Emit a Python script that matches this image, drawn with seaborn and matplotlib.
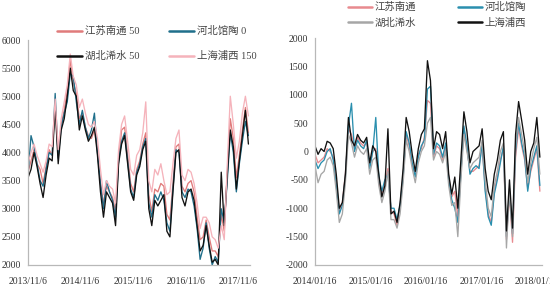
import numpy as np
import pandas as pd
import matplotlib
matplotlib.use("Agg")
import matplotlib.pyplot as plt
from matplotlib.lines import Line2D
import seaborn as sns

# ---------------- data: left chart (price levels) ----------------
left_start = "2013-11-06"
left_step = "21D"
left_names = ["江苏南通 50", "河北馆陶 0", "湖北浠水 50", "上海浦西 150"]
left_jiangsu = [3650, 3850, 4050, 3800, 3700, 3450, 3750, 4050, 3950, 4900, 3950, 4500, 4750, 5100, 5650, 5250,
                5050, 4600, 4700, 4450, 4300, 4250, 4400, 4050, 3450, 3100, 3400, 3300, 3200, 2950, 3850, 4400,
                4450, 3950, 3450, 3300, 3700, 3850, 4150, 4350, 3250, 2950, 3350, 3300, 3450, 3400, 2900, 2800,
                3450, 4100, 4150, 3400, 3300, 3450, 3500, 3300, 2850, 2450, 2500, 2800, 2500, 2250, 2250, 2150,
                2900, 2600, 3650, 4600, 4250, 3550, 3950, 4400, 4800, 4350]
left_hebei = [3600, 4300, 4100, 3800, 3500, 3400, 3700, 4000, 3950, 5050, 3900, 4450, 4700, 4900, 5400, 5350,
              4900, 4500, 4750, 4450, 4250, 4400, 4700, 4000, 3450, 3000, 3500, 3300, 3150, 2850, 3850, 4200,
              4350, 3850, 3350, 3200, 3650, 3800, 4100, 4250, 3100, 2850, 3250, 3150, 3300, 3150, 2750, 2600,
              3350, 4050, 4000, 3300, 3200, 3350, 3300, 3050, 2650, 2100, 2300, 2750, 2300, 2000, 2150, 2050,
              3000, 2750, 3500, 4350, 4000, 3300, 3800, 4200, 4550, 4300]
left_hubei = [3550, 3700, 4000, 3750, 3450, 3200, 3600, 3900, 3850, 4800, 3800, 4400, 4600, 5000, 5500, 5100,
              5000, 4400, 4650, 4400, 4200, 4300, 4450, 3950, 3300, 2850, 3300, 3200, 3100, 2700, 3800, 4150,
              4300, 3800, 3300, 3150, 3600, 3750, 4050, 4200, 3000, 2700, 3150, 3050, 3150, 3250, 2600, 2500,
              3300, 4000, 4050, 3200, 3050, 3300, 3350, 3150, 2700, 2250, 2350, 2700, 2350, 2050, 2100, 2000,
              3650, 2700, 3600, 4400, 4100, 3350, 3850, 4300, 4750, 4150]
left_shanghai = [3800, 4000, 4150, 3950, 3800, 3650, 3850, 4150, 4100, 4950, 4050, 4600, 4900, 5200, 5750, 5350,
                 5200, 4800, 4950, 4700, 4500, 4450, 4550, 4250, 3700, 3250, 3500, 3400, 3350, 3100, 4050, 4500,
                 4650, 4200, 3700, 3600, 3950, 4050, 4350, 4900, 3500, 3300, 3700, 3600, 3800, 3500, 3250, 3300,
                 3800, 4250, 4400, 3600, 3500, 3700, 3650, 3450, 3100, 2650, 2850, 2850, 2750, 2500, 2450, 2300,
                 2700, 2450, 3800, 5000, 4500, 3900, 4200, 4700, 5000, 4650]
left_ticks = ["2013-11-06", "2014-11-06", "2015-11-06", "2016-11-06", "2017-11-06"]
left_tick_labels = ["2013/11/6", "2014/11/6", "2015/11/6", "2016/11/6", "2017/11/6"]

# ---------------- data: right chart (spreads) ----------------
right_start = "2014-01-16"
right_step = "20D"
right_names = ["江苏南通", "河北馆陶", "湖北浠水", "上海浦西"]
right_shanghai = [100, -50, 50, 0, 180, 150, 50, -400, -1000, -900, -400, 600, 200, 100, 300, 200, 150, 250,
                  -200, 100, 0, -400, -800, -600, 400, -1100, -1050, -1250, -900, -300, 600, 350, -50, -350,
                  50, 300, 400, 1600, 1250, 50, 350, 300, 50, 350, -400, -750, -450, -1000, -150, 700, 350,
                  -200, 0, 50, 100, 400, -300, -700, -850, -400, -150, 200, 350, -1400, -500, -1350, 300, 880,
                  550, 200, -400, 0, 150, 600, -100]
right_hebei = [-150, -300, -200, -150, 0, 50, -150, -600, -1100, -950, -450, 450, 850, 0, 200, 100, 50, 200,
               -300, 0, 600, -450, -700, -500, -400, -1000, -1000, -1200, -950, -450, 350, 150, -200, -450,
               -100, 100, 200, 1100, 1150, -50, 150, 100, -100, 150, -500, -850, -1000, -1250, -400, 450, 100,
               -400, -300, -250, -300, 150, -700, -1150, -1300, -750, -500, -200, 100, -1500, -700, -1450, 0,
               500, 150, -100, -700, -300, -100, 100, -600]
right_jiangsu = [-50, -200, -150, -100, 50, 0, -100, -550, -1050, -900, -400, 400, 300, 50, 250, 150, 100, 150,
                 -250, 0, 50, -500, -750, -550, -300, -1050, -1100, -1300, -950, -400, 300, 100, -250, -400,
                 -50, 50, 250, 900, 850, -100, 100, 50, -150, 100, -450, -800, -700, -1150, -350, 400, 50,
                 -350, -350, -300, -250, 100, -650, -1100, -1250, -700, -450, -150, 50, -1550, -750, -1600,
                 -100, 400, 100, -150, -650, -350, -150, 50, -700]
right_hubei = [-250, -550, -400, -350, -150, -100, -250, -700, -1250, -1100, -550, 300, 150, -100, 100, 0, -50,
               50, -400, -150, -100, -600, -900, -700, -350, -1200, -1200, -1350, -1100, -550, 200, 0, -300,
               -550, -200, 0, 100, 500, 600, -150, 0, -50, -200, 0, -600, -950, -900, -1500, -500, 300, 0,
               -300, -200, -150, -100, 200, -500, -1000, -1150, -600, -350, 0, 150, -1700, -650, -1500, 100,
               600, 300, 0, -550, -200, 50, 250, -400]
right_ticks = ["2014-01-16", "2015-01-16", "2016-01-16", "2017-01-16", "2018-01-16"]
right_tick_labels = ["2014/01/16", "2015/01/16", "2016/01/16", "2017/01/16", "2018/01/16"]

left_colors = ["#e07b7b", "#1f6f8b", "#111111", "#f5b3bb"]
right_colors = ["#e88a8f", "#2a8fae", "#a6a6a6", "#111111"]


def long_frame(start, step, names, series):
    dates = pd.date_range(start, periods=len(series[0]), freq=step)
    parts = []
    for n, s in zip(names, series):
        parts.append(pd.DataFrame({"date": dates, "value": s, "series": n}))
    return pd.concat(parts, ignore_index=True)


df_left = long_frame(left_start, left_step, left_names,
                     [left_jiangsu, left_hebei, left_hubei, left_shanghai])
df_right = long_frame(right_start, right_step, right_names,
                      [right_jiangsu, right_hebei, right_hubei, right_shanghai])

sns.set_theme(style="white")
FONT = ["Liberation Serif", "Noto Sans CJK SC", "DejaVu Sans"]
plt.rcParams["font.family"] = FONT
plt.rcParams["axes.unicode_minus"] = False

fig = plt.figure(figsize=(5.5, 3.0), dpi=100)
ax1 = fig.add_axes([28 / 550, 1 - 265 / 300, 222 / 550, 225 / 300])
ax2 = fig.add_axes([315 / 550, 1 - 265 / 300, 227 / 550, 227 / 300])

sns.lineplot(data=df_left, x="date", y="value", hue="series", hue_order=left_names,
             palette=dict(zip(left_names, left_colors)), linewidth=0.95, ax=ax1, legend=False)
sns.lineplot(data=df_right, x="date", y="value", hue="series", hue_order=right_names,
             palette=dict(zip(right_names, right_colors)), linewidth=0.95, ax=ax2, legend=False)

spine_col = "#b8b8b8"
for ax in (ax1, ax2):
    ax.set_xlabel("")
    ax.set_ylabel("")
    for side in ("top", "right"):
        ax.spines[side].set_visible(False)
    for side in ("left", "bottom"):
        ax.spines[side].set_color(spine_col)
        ax.spines[side].set_linewidth(0.9)
    ax.tick_params(axis="both", which="both", labelsize=7, colors="#333333", length=3,
                   width=0.8, color=spine_col, pad=2)
    ax.tick_params(axis="x", direction="out", pad=6)
    ax.tick_params(axis="y", direction="out")
    ax.set_facecolor("white")

ax1.set_ylim(2000, 6000)
ax1.set_yticks(np.arange(2000, 6001, 500))
ax1.set_xlim(pd.Timestamp("2013-11-06"), pd.Timestamp("2018-01-28"))
ax1.set_xticks(pd.to_datetime(left_ticks))
ax1.set_xticklabels(left_tick_labels)

ax2.set_ylim(-2000, 2000)
ax2.set_yticks(np.arange(-2000, 2001, 500))
ax2.set_xlim(pd.Timestamp("2014-01-16"), pd.Timestamp("2018-02-18"))
ax2.set_xticks(pd.to_datetime(right_ticks))
ax2.set_xticklabels(right_tick_labels)

# legends filled row by row (matplotlib fills column-wise, so reorder)
order = [0, 2, 1, 3]
lw_leg = 1.8
h1 = [Line2D([0], [0], color=left_colors[i], lw=lw_leg) for i in order]
leg1 = ax1.legend(h1, [left_names[i] for i in order], ncol=2, loc="upper left",
                  bbox_to_anchor=(57 / 550, 1 - 26 / 300), bbox_transform=fig.transFigure,
                  frameon=False, fontsize=7.5, handlelength=2.4, handletextpad=0.25,
                  columnspacing=2.9, labelspacing=1.45, borderpad=0, borderaxespad=0)
for t in leg1.get_texts():
    t.set_color("#444444")

h2 = [Line2D([0], [0], color=right_colors[i], lw=lw_leg) for i in order]
leg2 = ax2.legend(h2, [right_names[i] for i in order], ncol=2, loc="upper left",
                  bbox_to_anchor=(348 / 550, 1 - 2 / 300), bbox_transform=fig.transFigure,
                  frameon=False, fontsize=7.5, handlelength=2.3, handletextpad=0.25,
                  columnspacing=4.0, labelspacing=0.55, borderpad=0, borderaxespad=0)
for t in leg2.get_texts():
    t.set_color("#444444")

fig.savefig("out.png", dpi=100, facecolor="white")
